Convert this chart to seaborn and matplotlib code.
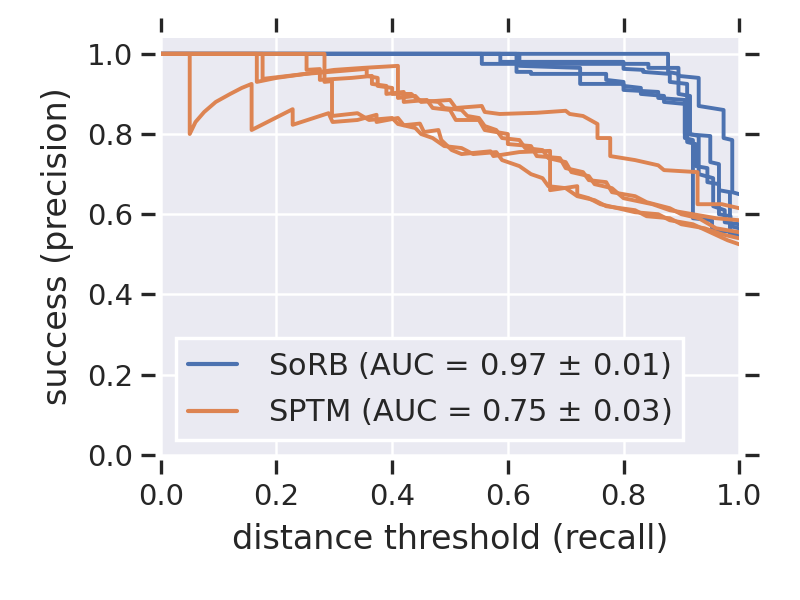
import numpy as np
import pandas as pd
import seaborn as sns
import matplotlib.pyplot as plt

# precision-recall curves, one list of (recall, precision) per run
sorb_runs = [
    [(0, 1), (0.877, 1), (0.877, 0.955), (0.895, 0.95), (0.895, 0.90), (0.915, 0.895), (0.915, 0.80),
     (0.93, 0.795), (0.93, 0.70), (0.955, 0.69), (0.955, 0.62), (0.975, 0.61), (0.975, 0.58), (1.0, 0.575)],
    [(0, 1), (0.555, 1), (0.555, 0.975), (0.843, 0.975), (0.843, 0.965), (0.895, 0.965), (0.895, 0.945),
     (0.93, 0.94), (0.93, 0.87), (0.973, 0.86), (0.973, 0.79), (0.988, 0.785), (0.988, 0.655), (1.0, 0.65)],
    [(0, 1), (0.587, 1), (0.587, 0.98), (0.80, 0.98), (0.80, 0.9625), (0.834, 0.96), (0.834, 0.955),
     (0.88, 0.95), (0.88, 0.93), (0.91, 0.925), (0.91, 0.78), (0.925, 0.775), (0.925, 0.72), (0.945, 0.715),
     (0.945, 0.68), (0.965, 0.675), (0.965, 0.60), (0.985, 0.595), (0.985, 0.57), (1.0, 0.565)],
    [(0, 1), (0.615, 1), (0.615, 0.955), (0.64, 0.955), (0.64, 0.95), (0.77, 0.95), (0.77, 0.935),
     (0.80, 0.93), (0.80, 0.92), (0.83, 0.915), (0.83, 0.90), (0.87, 0.895), (0.87, 0.88), (0.906, 0.875),
     (0.906, 0.79), (0.92, 0.785), (0.92, 0.59), (0.953, 0.585), (0.953, 0.56), (1.0, 0.555)],
    [(0, 1), (0.62, 1), (0.62, 0.97), (0.725, 0.965), (0.725, 0.925), (0.80, 0.925), (0.80, 0.91),
     (0.86, 0.905), (0.86, 0.89), (0.906, 0.885), (0.906, 0.80), (0.95, 0.795), (0.95, 0.73), (0.965, 0.725),
     (0.965, 0.66), (0.984, 0.655), (0.984, 0.55), (1.0, 0.545)],
]

sptm_runs = [
    [(0, 1), (0.05, 1), (0.05, 0.80), (0.06, 0.83), (0.075, 0.855), (0.095, 0.88), (0.12, 0.90),
     (0.14, 0.915), (0.157, 0.925), (0.157, 0.81), (0.228, 0.862), (0.228, 0.823), (0.29, 0.852),
     (0.297, 0.83), (0.34, 0.835), (0.373, 0.848), (0.373, 0.83), (0.41, 0.84), (0.42, 0.822),
     (0.448, 0.826), (0.455, 0.805), (0.48, 0.81), (0.485, 0.785), (0.503, 0.76), (0.52, 0.75),
     (0.57, 0.757), (0.575, 0.745), (0.62, 0.755), (0.673, 0.758), (0.673, 0.66), (0.72, 0.67),
     (0.72, 0.648), (0.74, 0.64), (0.76, 0.625), (0.79, 0.615), (0.82, 0.605), (0.86, 0.60),
     (0.88, 0.585), (0.92, 0.575), (0.95, 0.555), (0.98, 0.535), (1.0, 0.525)],
    [(0, 1), (0.166, 1), (0.166, 0.93), (0.20, 0.94), (0.25, 0.95), (0.30, 0.96), (0.35, 0.965),
     (0.41, 0.97), (0.41, 0.89), (0.44, 0.895), (0.45, 0.88), (0.50, 0.885), (0.51, 0.865), (0.555, 0.87),
     (0.56, 0.855), (0.586, 0.85), (0.65, 0.853), (0.70, 0.858), (0.707, 0.85), (0.73, 0.845),
     (0.755, 0.825), (0.755, 0.79), (0.777, 0.79), (0.777, 0.745), (0.82, 0.735), (0.86, 0.722),
     (0.87, 0.71), (0.928, 0.705), (0.928, 0.625), (0.97, 0.625), (1.0, 0.615)],
    [(0, 1), (0.176, 1), (0.176, 0.9375), (0.25, 0.95), (0.356, 0.9625), (0.356, 0.945), (0.375, 0.94),
     (0.375, 0.92), (0.40, 0.915), (0.40, 0.90), (0.433, 0.90), (0.445, 0.885), (0.48, 0.88),
     (0.49, 0.865), (0.52, 0.86), (0.53, 0.845), (0.55, 0.84), (0.56, 0.82), (0.58, 0.81), (0.59, 0.79),
     (0.62, 0.785), (0.63, 0.765), (0.66, 0.76), (0.67, 0.74), (0.70, 0.73), (0.71, 0.705), (0.74, 0.695),
     (0.75, 0.675), (0.78, 0.665), (0.80, 0.64), (0.85, 0.625), (0.88, 0.61), (0.92, 0.60),
     (0.96, 0.59), (1.0, 0.585)],
    [(0, 1), (0.252, 1), (0.252, 0.96), (0.275, 0.962), (0.275, 0.935), (0.33, 0.94), (0.365, 0.945),
     (0.365, 0.925), (0.39, 0.92), (0.39, 0.90), (0.42, 0.905), (0.42, 0.88), (0.46, 0.885),
     (0.47, 0.865), (0.50, 0.86), (0.51, 0.835), (0.55, 0.835), (0.56, 0.81), (0.60, 0.80), (0.60, 0.775),
     (0.64, 0.77), (0.65, 0.745), (0.69, 0.74), (0.70, 0.715), (0.73, 0.705), (0.74, 0.685), (0.77, 0.68),
     (0.78, 0.655), (0.82, 0.645), (0.84, 0.63), (0.88, 0.615), (0.90, 0.60), (0.93, 0.59),
     (0.96, 0.565), (1.0, 0.555)],
    [(0, 1), (0.283, 1), (0.283, 0.93), (0.296, 0.932), (0.296, 0.845), (0.34, 0.852), (0.36, 0.835),
     (0.40, 0.84), (0.41, 0.825), (0.44, 0.815), (0.45, 0.80), (0.47, 0.79), (0.49, 0.77), (0.52, 0.765),
     (0.54, 0.75), (0.58, 0.755), (0.59, 0.735), (0.62, 0.72), (0.64, 0.70), (0.66, 0.69), (0.67, 0.67),
     (0.70, 0.665), (0.72, 0.645), (0.75, 0.635), (0.77, 0.62), (0.82, 0.61), (0.84, 0.595),
     (0.88, 0.59), (0.90, 0.575), (0.94, 0.565), (0.97, 0.55), (1.0, 0.54)],
]

sorb_label = "SoRB (AUC = 0.97 $\\pm$ 0.01)"
sptm_label = "SPTM (AUC = 0.75 $\\pm$ 0.03)"


def to_frame(runs, label, offset):
    rows = []
    for i, run in enumerate(runs):
        for k, (r, p) in enumerate(run):
            rows.append({"recall": r, "precision": p, "method": label, "run": offset + i, "order": k})
    return pd.DataFrame(rows)


df = pd.concat([to_frame(sorb_runs, sorb_label, 0), to_frame(sptm_runs, sptm_label, 10)],
               ignore_index=True)

sns.set_theme(style="darkgrid")
plt.rcParams["font.family"] = ["DejaVu Sans"]
plt.rcParams["grid.linewidth"] = 1.8

fig, ax = plt.subplots(figsize=(8, 6), dpi=100)
fig.subplots_adjust(left=0.201, right=0.924, bottom=0.242, top=0.937)

palette = {sorb_label: sns.color_palette("deep")[0], sptm_label: sns.color_palette("deep")[1]}
sns.lineplot(data=df, x="recall", y="precision", hue="method", units="run", estimator=None,
             sort=False, palette=palette, linewidth=2.8, ax=ax)

ax.set_xlim(0, 1)
ax.set_ylim(0, 1.04)
ax.set_xticks([0, 0.2, 0.4, 0.6, 0.8, 1.0])
ax.set_yticks([0, 0.2, 0.4, 0.6, 0.8, 1.0])
ax.set_xlabel("distance threshold (recall)", fontsize=24, labelpad=9)
ax.set_ylabel("success (precision)", fontsize=24, labelpad=9)
ax.tick_params(axis="both", which="major", labelsize=21, direction="out", length=10, width=2.4,
               pad=6, color="#262626", top=True, right=True, bottom=True, left=True)
for s in ax.spines.values():
    s.set_position(("outward", 4))
    s.set_visible(False)

leg = ax.legend(loc="lower left", fontsize=22, frameon=True, fancybox=False,
                facecolor="#EAEAF2", edgecolor="white", framealpha=1, handletextpad=1.0,
                handlelength=1.6, borderaxespad=0.5)
leg.get_frame().set_linewidth(2.5)
for h in leg.get_lines():
    h.set_linewidth(3)

fig.savefig("out.png", dpi=100)
